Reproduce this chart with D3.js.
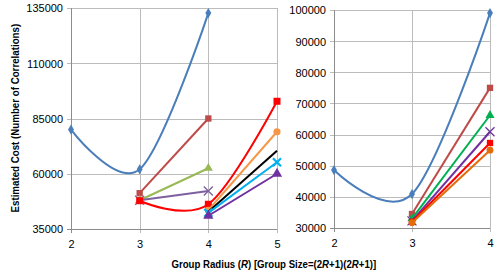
<!DOCTYPE html>
<html>
<head>
<meta charset="utf-8">
<script src="https://cdn.jsdelivr.net/npm/d3@7"></script>
<style>
  body { margin: 0; background: #fff; }
  svg { display: block; font-family: 'Liberation Sans', Arial, sans-serif; }
  .tick text { font-size: 11px; fill: #000; }
</style>
</head>
<body>
<div id="chart"></div>
<script>
/* global d3 */

// left panel: radius 2..5
const radiiLeft = [2, 3, 4, 5];
const ticksLeft = [35000, 60000, 85000, 110000, 135000];
const blueLeft = [80000, 62000, 132700, null];
const brownLeft = [null, 51200, 85000, null];
const greenLeft = [null, 48000, 62500, null];
const violetLeft = [null, 48000, 52200, null];
const redLeft = [null, 47800, 46200, 92800];
const orangeLeft = [null, null, 43500, 79000];
const blackLeft = [null, null, 42800, 70400];
const cyanLeft = [null, null, 42300, 65200];
const purpleLeft = [null, null, 41000, 60000];

// right panel: radius 2..4
const radiiRight = [2, 3, 4];
const ticksRight = [30000, 40000, 50000, 60000, 70000, 80000, 90000, 100000];
const blueRight = [48600, 40900, 99000];
const brownRight = [null, 34500, 75000];
const greenRight = [null, 33000, 66200];
const purpleRight = [null, 32300, 60900];
const redRight = [null, 32000, 57300];
const orangeRight = [null, 31700, 55000];

const W = 496;
const H = 273;

const svg = d3.select('#chart').append('svg')
  .attr('width', W)
  .attr('height', H);

const drawPanel = function drawPanel(opts) {
  const x = d3.scaleLinear().domain(d3.extent(opts.radii)).range(opts.xRange);
  const y = d3.scaleLinear().domain(d3.extent(opts.ticks)).range(opts.yRange);
  const g = svg.append('g');

  // gridlines
  g.append('g')
    .selectAll('line')
    .data(opts.ticks)
    .enter().append('line')
    .attr('x1', opts.xRange[0] - 4)
    .attr('x2', opts.xRange[1])
    .attr('y1', d => Math.round(y(d)) + 0.5)
    .attr('y2', d => Math.round(y(d)) + 0.5)
    .attr('stroke', '#bcbcbc');
  g.append('g')
    .selectAll('line')
    .data(opts.radii)
    .enter().append('line')
    .attr('x1', d => Math.round(x(d)) + 0.5)
    .attr('x2', d => Math.round(x(d)) + 0.5)
    .attr('y1', opts.yRange[1])
    .attr('y2', opts.yRange[0] + 4)
    .attr('stroke', '#bcbcbc');

  // axes lines
  g.append('line')
    .attr('x1', Math.round(opts.xRange[0]) + 0.5)
    .attr('x2', Math.round(opts.xRange[0]) + 0.5)
    .attr('y1', opts.yRange[1])
    .attr('y2', opts.yRange[0] + 4)
    .attr('stroke', '#8c8c8c');
  g.append('line')
    .attr('x1', opts.xRange[0] - 4)
    .attr('x2', opts.xRange[1])
    .attr('y1', Math.round(opts.yRange[0]) + 0.5)
    .attr('y2', Math.round(opts.yRange[0]) + 0.5)
    .attr('stroke', '#8c8c8c');

  const yAxis = g.append('g')
    .attr('transform', `translate(${opts.xRange[0]},0)`)
    .call(d3.axisLeft(y).tickValues(opts.ticks).tickSize(0).tickPadding(8).tickFormat(d3.format('d')));
  yAxis.select('.domain').remove();
  yAxis.selectAll('text').attr('dy', '0.35em');

  const xAxis = g.append('g')
    .attr('transform', `translate(0,${opts.yRange[0]})`)
    .call(d3.axisBottom(x).tickValues(opts.radii).tickSize(0).tickPadding(11).tickFormat(d3.format('d')));
  xAxis.select('.domain').remove();

  const line = d3.line()
    .defined(d => d.v != null)
    .x(d => x(d.r))
    .y(d => y(d.v))
    .curve(d3.curveCardinal.tension(0));

  opts.series.forEach((s) => {
    const pts = opts.radii.map((r, i) => ({ r, v: s.values[i] }));
    g.append('path')
      .datum(pts)
      .attr('d', line)
      .attr('fill', 'none')
      .attr('stroke', s.color)
      .attr('stroke-width', 2);

    const shown = pts.filter(d => d.v != null);
    if (s.marker === 'x') {
      shown.forEach((d) => {
        const cx = x(d.r);
        const cy = y(d.v);
        const k = s.size || 4;
        g.append('path')
          .attr('d', `M${cx - k},${cy - k}L${cx + k},${cy + k}M${cx - k},${cy + k}L${cx + k},${cy - k}`)
          .attr('stroke', s.color)
          .attr('stroke-width', s.xw || 1.3)
          .attr('fill', 'none');
      });
    } else if (s.marker) {
      const types = {
        diamond: d3.symbolDiamond,
        square: d3.symbolSquare,
        triangle: d3.symbolTriangle,
        circle: d3.symbolCircle,
      };
      g.selectAll(null)
        .data(shown)
        .enter().append('path')
        .attr('d', d3.symbol().type(types[s.marker]).size(s.size || 36))
        .attr('transform', d => `translate(${x(d.r)},${y(d.v)})`)
        .attr('fill', s.color);
    }
  });
};

drawPanel({
  radii: radiiLeft,
  ticks: ticksLeft,
  xRange: [71, 277],
  yRange: [229, 8],
  series: [
    { values: blueLeft, color: '#4a7ebb', marker: 'diamond', size: 30 },
    { values: brownLeft, color: '#be4b48', marker: 'square', size: 40 },
    { values: greenLeft, color: '#98b954', marker: 'triangle', size: 36 },
    { values: violetLeft, color: '#7d60a0', marker: 'x', size: 4.5 },
    { values: redLeft, color: '#ff0000', marker: 'square', size: 49 },
    { values: orangeLeft, color: '#f79646', marker: 'circle', size: 40 },
    { values: blackLeft, color: '#000000', marker: null },
    { values: cyanLeft, color: '#00b0f0', marker: 'x', size: 4, xw: 2.2 },
    { values: purpleLeft, color: '#7030a0', marker: 'triangle', size: 45 },
  ],
});

drawPanel({
  radii: radiiRight,
  ticks: ticksRight,
  xRange: [334, 490],
  yRange: [228, 10],
  series: [
    { values: blueRight, color: '#4a7ebb', marker: 'diamond', size: 30 },
    { values: brownRight, color: '#be4b48', marker: 'square', size: 40 },
    { values: greenRight, color: '#00b050', marker: 'triangle', size: 36 },
    { values: purpleRight, color: '#7030a0', marker: 'x', size: 4.5 },
    { values: redRight, color: '#ff0000', marker: 'square', size: 40 },
    { values: orangeRight, color: '#e46c0a', marker: 'circle', size: 36 },
  ],
});

// axis titles: drawn at natural width, then squeezed to the narrow Calibri-like width
const xTitleG = svg.append('g');
const xTitle = xTitleG.append('text')
  .attr('x', 0)
  .attr('y', 0)
  .attr('font-size', 11)
  .attr('font-weight', 'bold');
xTitle.append('tspan').text('Group Radius (');
xTitle.append('tspan').attr('font-style', 'italic').text('R');
xTitle.append('tspan').text(') [Group Size=(2');
xTitle.append('tspan').attr('font-style', 'italic').text('R');
xTitle.append('tspan').text('+1)(2');
xTitle.append('tspan').attr('font-style', 'italic').text('R');
xTitle.append('tspan').text('+1)]');
const xw = xTitle.node().getComputedTextLength();
const xk = 205 / xw;
xTitleG.attr('transform', `translate(${274 - 102.5},268) scale(${xk},1)`);

const yTitleG = svg.append('g');
const yTitle = yTitleG.append('text')
  .attr('font-size', 11)
  .attr('font-weight', 'bold')
  .text('Estimated Cost (Number of Correlations)');
const yw = yTitle.node().getComputedTextLength();
const yk = 189 / yw;
yTitleG.attr('transform', `translate(19,${118 + 94.5}) rotate(-90) scale(${yk},1)`);
</script>
</body>
</html>
